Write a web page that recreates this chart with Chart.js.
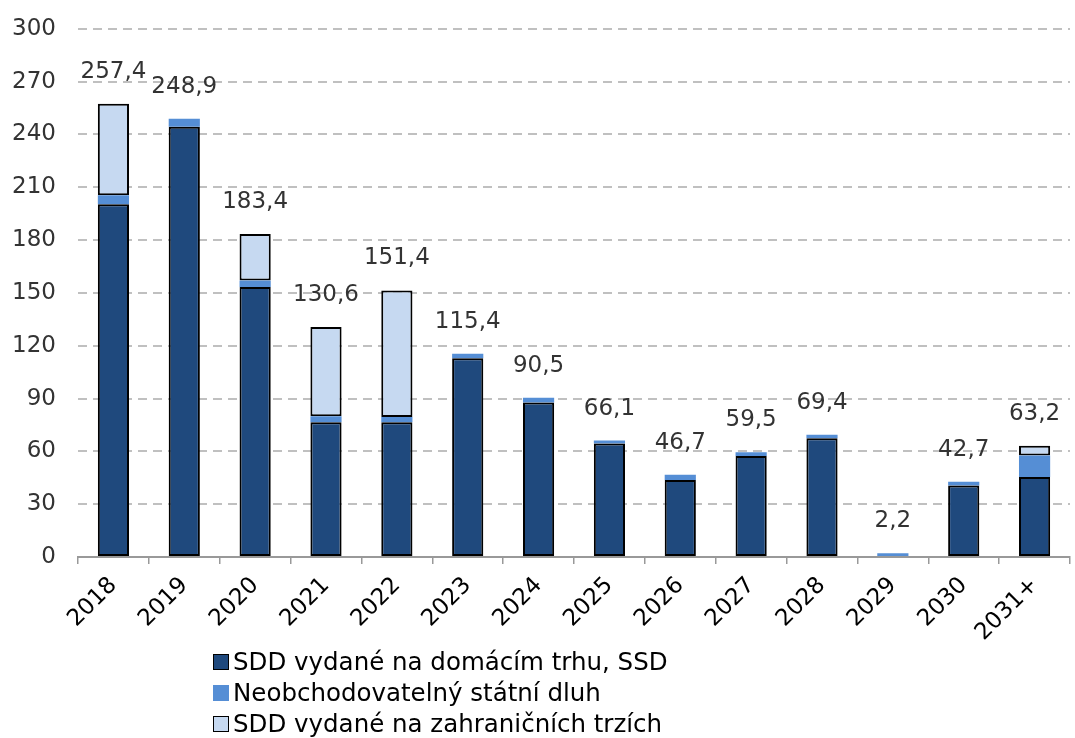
<!DOCTYPE html>
<html>
<head>
<meta charset="utf-8">
<script src="https://cdn.jsdelivr.net/npm/chart.js@4"></script>
<style>
  html, body { margin: 0; padding: 0; background: #fff; }
  #wrap { position: relative; width: 1075px; height: 738px; overflow: hidden; }
  #c { position: absolute; left: 0; top: -7px; }
  #legend { position: absolute; left: 213px; top: 646px; font-family: "DejaVu Sans", Verdana, sans-serif; font-size: 24.5px; color: #000; }
  .row { height: 31px; display: flex; align-items: center; white-space: nowrap; }
  .box { width: 16px; height: 16px; margin-right: 4px; box-sizing: border-box; }
</style>
</head>
<body>
<div id="wrap">
  <canvas id="c" width="1075" height="657"></canvas>
  <div id="legend"></div>
</div>
<script>
const categories = ["2018","2019","2020","2021","2022","2023","2024","2025","2026","2027","2028","2029","2030","2031+"];
const domestic   = [200.4, 244.4, 153.4, 76.5, 76.5, 112.9, 87.7, 64.5, 43.8, 57.4, 67.5, null, 40.6, 45.5];
const nonTraded  = [5.0, 4.5, 3.6, 3.4, 3.0, 2.5, 2.8, 1.6, 2.9, 2.1, 1.9, 2.2, 2.1, 12.2];
const foreign    = [52.0, null, 26.4, 50.7, 71.9, null, null, null, null, null, null, null, null, 5.5];
const totals     = [257.4, 248.9, 183.4, 130.6, 151.4, 115.4, 90.5, 66.1, 46.7, 59.5, 69.4, 2.2, 42.7, 63.2];
const yTicks     = [0, 30, 60, 90, 120, 150, 180, 210, 240, 270, 300];
const seriesNames = ["SDD vydané na domácím trhu, SSD", "Neobchodovatelný státní dluh", "SDD vydané na zahraničních trzích"];
const colors = ["#1F497D", "#558ED5", "#C6D9F1"];
const borders = [2, 0, 2];

const FONT = '"DejaVu Sans", Verdana, sans-serif';

const labelPlugin = {
  id: 'totLabels',
  afterDatasetsDraw(chart) {
    const ctx = chart.ctx;
    const xs = chart.scales.x, ys = chart.scales.y;
    ctx.save();
    ctx.font = '23px ' + FONT;
    ctx.fillStyle = '#333';
    ctx.textAlign = 'center';
    ctx.textBaseline = 'middle';
    totals.forEach((t, i) => {
      const x = xs.getPixelForValue(i);
      const y = ys.getPixelForValue(t) - 32;
      ctx.fillText(t.toFixed(1).replace('.', ','), x, y);
    });
    ctx.restore();
  }
};

const data = [domestic, nonTraded, foreign];
new Chart(document.getElementById('c'), {
  type: 'bar',
  data: {
    labels: categories,
    datasets: data.map((d, k) => ({
      label: seriesNames[k],
      data: d,
      backgroundColor: colors[k],
      borderColor: '#000',
      borderWidth: borders[k],
      borderSkipped: false,
      categoryPercentage: 1,
      barPercentage: 0.44
    }))
  },
  options: {
    responsive: false,
    animation: false,
    devicePixelRatio: 1,
    layout: { padding: { top: 15, right: 5, left: 0, bottom: 0 } },
    plugins: { legend: { display: false }, tooltip: { enabled: false } },
    scales: {
      x: {
        stacked: true,
        afterFit(s) { s.height = 93; },
        grid: { display: true, offset: true, drawOnChartArea: false, drawTicks: true, tickLength: 7, color: '#999', lineWidth: 1.5 },
        border: { display: true, color: '#999', width: 2 },
        ticks: { minRotation: 45, maxRotation: 45, autoSkip: false, padding: 8, color: '#000', font: { family: FONT, size: 23 } }
      },
      y: {
        stacked: true,
        min: 0, max: 300,
        afterFit(s) { s.width = 78; },
        afterBuildTicks(s) { s.ticks = yTicks.map(v => ({ value: v })); },
        border: { display: false, dash: [9, 6] },
        grid: {
          drawTicks: false,
          color: (c) => c.tick && c.tick.value === 0 ? 'rgba(0,0,0,0)' : '#c0c0c0',
          lineWidth: 2
        },
        ticks: { padding: 22, color: '#333', font: { family: FONT, size: 23 } }
      }
    }
  },
  plugins: [labelPlugin]
});

const leg = document.getElementById('legend');
seriesNames.forEach((n, k) => {
  const row = document.createElement('div'); row.className = 'row';
  const b = document.createElement('span'); b.className = 'box';
  b.style.background = colors[k];
  b.style.border = borders[k] ? '1.5px solid #000' : 'none';
  const t = document.createElement('span'); t.textContent = n;
  row.appendChild(b); row.appendChild(t); leg.appendChild(row);
});
</script>
</body>
</html>
